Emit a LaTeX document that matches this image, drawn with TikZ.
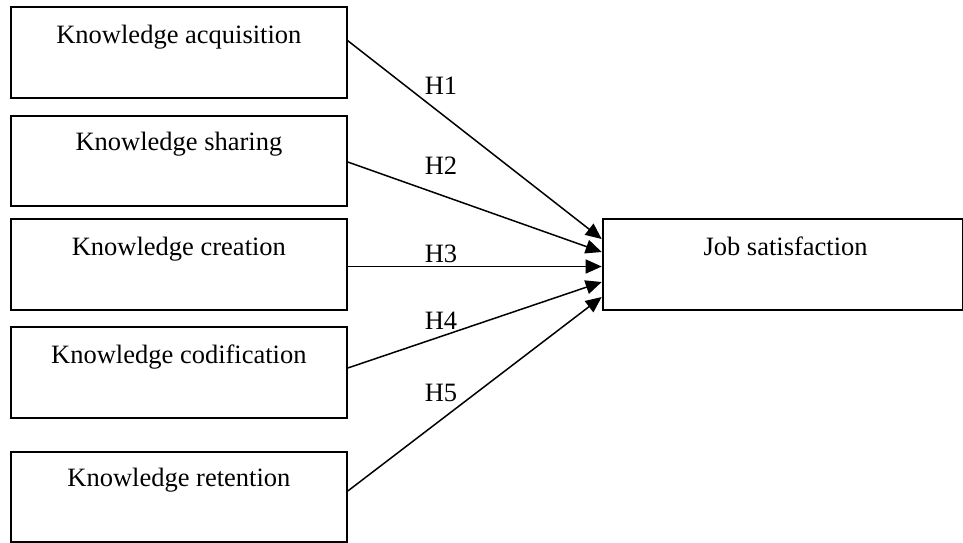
\documentclass[tikz,border=0pt]{standalone}
\usepackage{fontspec}
\setmainfont{Liberation Serif}
\usetikzlibrary{arrows.meta}
\begin{document}
\begin{tikzpicture}[x=1pt,y=-1pt,
  box/.style={draw=black,line width=1.8pt,anchor=north west,inner xsep=0pt,inner ysep=0pt,
    font=\fontsize{26.5}{30}\selectfont},
  arr/.style={line width=1.5pt,-{Triangle[length=16pt,width=14pt]}},
  hlab/.style={anchor=base,inner sep=0pt,font=\fontsize{26.5}{30}\selectfont}]
\useasboundingbox (0,0) rectangle (963,542);
\node[box,minimum width=336pt,text height=37pt,text depth=54pt] (k1) at (10,6) {Knowledge acquisition};
\node[box,minimum width=336pt,text height=35pt,text depth=55pt] (k2) at (10,115) {Knowledge sharing};
\node[box,minimum width=336pt,text height=36.7pt,text depth=53.7pt] (k3) at (10,218.3) {Knowledge creation};
\node[box,minimum width=336pt,text height=36.7pt,text depth=54pt] (k4) at (10,326) {Knowledge codification};
\node[box,minimum width=336pt,text height=35pt,text depth=55pt] (k5) at (10,451) {Knowledge retention};
\node[box,minimum width=360pt,text height=36.7pt,text depth=54pt] (job) at (601.7,218.3) {\hspace{6pt}Job satisfaction};
% connector end points on the box edges
\coordinate (s1) at (k1.east |- 0,40.7);
\coordinate (s2) at (k2.east |- 0,162);
\coordinate (s3) at (k3.east |- 0,266.5);
\coordinate (s4) at (k4.east |- 0,368);
\coordinate (s5) at (k5.east |- 0,491);
\coordinate (e1) at (job.west |- 0,239);
\coordinate (e2) at (job.west |- 0,252);
\coordinate (e3) at (job.west |- 0,266.5);
\coordinate (e4) at (job.west |- 0,282);
\coordinate (e5) at (job.west |- 0,297);
\draw[arr] (s1) -- (e1);
\draw[arr] (s2) -- (e2);
\draw[arr] (s3) -- (e3);
\draw[arr] (s4) -- (e4);
\draw[arr] (s5) -- (e5);
\node[hlab] (h1) at (441,94) {H1};
\node[hlab] (h2) at (441,174) {H2};
\node[hlab] (h3) at (441,262) {H3};
\node[hlab] (h4) at (441,329) {H4};
\node[hlab] (h5) at (441,401) {H5};
\end{tikzpicture}
\end{document}
